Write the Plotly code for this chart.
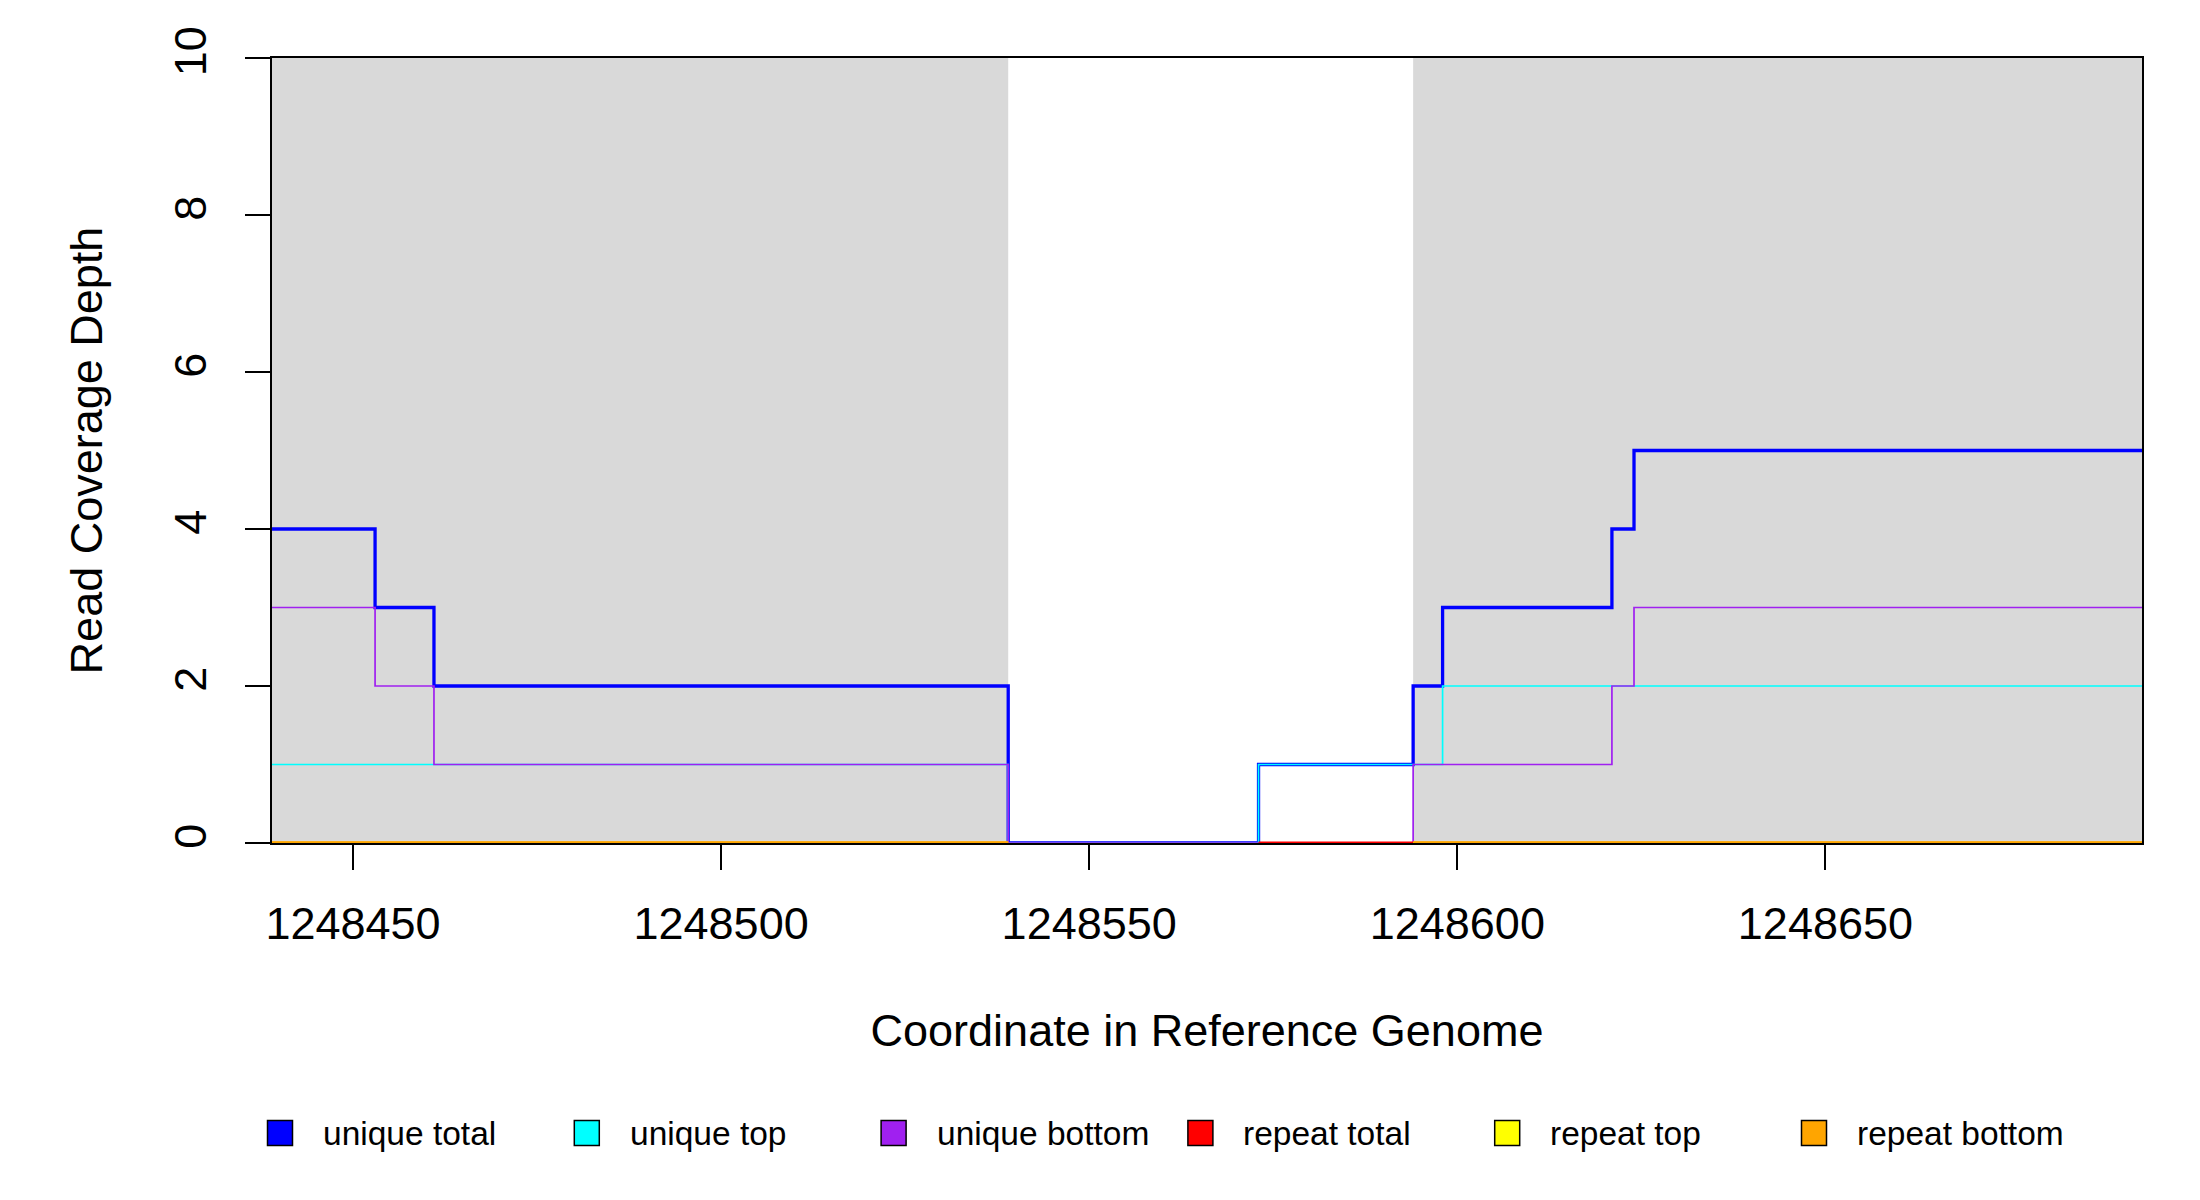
import plotly.graph_objects as go

# coverage steps (position where a new depth starts, last point closes the range)
positions = [1248439, 1248453, 1248461, 1248539, 1248573, 1248594, 1248598, 1248621, 1248624, 1248693]
unique_total = [4, 3, 2, 0, 1, 2, 3, 4, 5, 5]
unique_top = [1, 1, 1, 0, 1, 1, 2, 2, 2, 2]
unique_bottom = [3, 2, 1, 0, 0, 1, 1, 2, 3, 3]

# repeat coverage is only drawn over parts of the window
repeat_total_pos = [1248439, 1248539, None, 1248573, 1248693]
repeat_total = [0, 0, None, 0, 0]
repeat_strand_pos = [1248439, 1248539, None, 1248594, 1248693]
repeat_top = [0, 0, None, 0, 0]
repeat_bottom = [0, 0, None, 0, 0]

# shaded (reference) regions
shaded_regions = [(1248439, 1248539), (1248594, 1248693)]

x_ticks = [1248450, 1248500, 1248550, 1248600, 1248650]
y_ticks = [0, 2, 4, 6, 8, 10]

series = [
    ('unique total', positions, unique_total, '#0000FF', 3.3),
    ('unique top', positions, unique_top, '#00FFFF', 1.7),
    ('unique bottom', positions, unique_bottom, '#A020F0', 1.7),
    ('repeat total', repeat_total_pos, repeat_total, '#FF0000', 3),
    ('repeat top', repeat_strand_pos, repeat_top, '#FFFF00', 3),
    ('repeat bottom', repeat_strand_pos, repeat_bottom, '#FFA500', 3),
]

FONT = 'Liberation Sans, Arial, sans-serif'

# figure geometry (page body has an 8px margin, so the figure is a bit smaller than the window)
W, H = 2192, 1192
ML, MR, MT, MB = 264, 58, 50, 357
PW, PH = W - ML - MR, H - MT - MB

fig = go.Figure()

for name, xs, ys, color, width in series:
    fig.add_trace(go.Scatter(x=xs, y=ys, mode='lines', name=name,
                             line=dict(color=color, width=width, shape='hv'),
                             connectgaps=False, showlegend=False, hoverinfo='skip'))

for x0, x1 in shaded_regions:
    fig.add_shape(type='rect', xref='x', yref='y', x0=x0, x1=x1, y0=0, y1=10,
                  fillcolor='#D9D9D9', line=dict(width=0), layer='below')

# legend drawn by hand: R style filled boxes with black border, one row under the plot
legend_x0 = 8           # px from plot left to first box centre
legend_step = 306.8     # px between entries
legend_y = 290          # px below plot bottom
box = 12.5
for i, (name, xs, ys, color, width) in enumerate(series):
    cx = legend_x0 + i * legend_step
    fig.add_shape(type='rect', xref='paper', yref='paper',
                  x0=(cx - box) / PW, x1=(cx + box) / PW,
                  y0=(-legend_y - box) / PH, y1=(-legend_y + box) / PH,
                  fillcolor=color, line=dict(color='black', width=1.5))
    fig.add_annotation(xref='paper', yref='paper', x=(cx + 41) / PW, y=-legend_y / PH,
                       text=name, showarrow=False, xanchor='left', yanchor='middle',
                       font=dict(size=33.5, color='black'))

fig.update_layout(
    width=W,
    height=H,
    autosize=False,
    plot_bgcolor='white',
    paper_bgcolor='white',
    font=dict(family=FONT, size=45, color='black'),
    margin=dict(l=ML, r=MR, t=MT, b=MB),
    showlegend=False,
    xaxis=dict(
        range=[1248439, 1248693],
        tickmode='array',
        tickvals=x_ticks,
        tickformat='d',
        ticks='outside',
        ticklen=25,
        tickwidth=1.5,
        tickcolor='black',
        ticklabelstandoff=15,
        showgrid=False,
        zeroline=False,
        showline=True,
        mirror=True,
        linecolor='black',
        linewidth=1.5,
        layer='below traces',
        tickfont=dict(size=45),
        title=dict(text='Coordinate in Reference Genome', font=dict(size=45), standoff=67),
    ),
    yaxis=dict(
        range=[0, 10],
        tickmode='array',
        tickvals=y_ticks,
        ticks='outside',
        ticklen=25,
        tickwidth=1.5,
        tickcolor='black',
        tickangle=-90,
        ticklabelstandoff=21,
        showgrid=False,
        zeroline=False,
        showline=True,
        mirror=True,
        linecolor='black',
        linewidth=1.5,
        layer='below traces',
        tickfont=dict(size=45),
        title=dict(text='Read Coverage Depth', font=dict(size=45), standoff=49),
    ),
)

fig.write_html('out.html')
